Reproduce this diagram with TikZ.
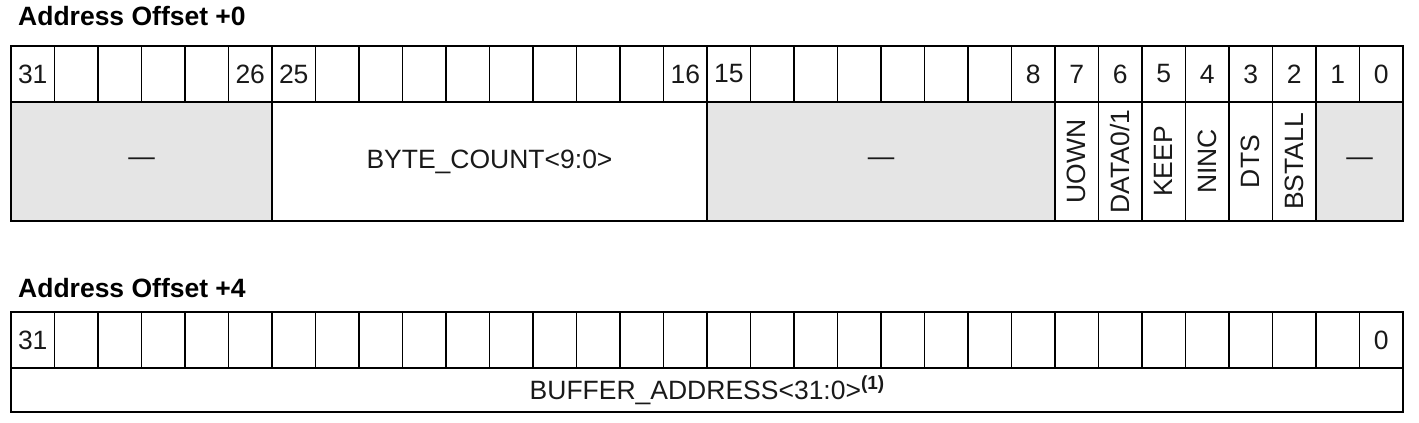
\documentclass[tikz,border=0pt]{standalone}
\usepackage{fontspec}
\setmainfont{Liberation Sans}
\begin{document}
\begin{tikzpicture}[x=1pt,y=-1pt,
  txt/.style={font=\fontsize{26.5}{30}\selectfont, text=black!90},
  hcell/.style={draw, line width=1.3pt, inner sep=0pt, outer sep=0pt, anchor=north west,
    minimum width=43.5pt, minimum height=56pt, txt},
  field/.style={draw, line width=1.3pt, inner sep=0pt, outer sep=0pt, anchor=north west, txt},
  rsv/.style={field, fill=black!10},
  title/.style={font=\fontsize{26.5}{30}\selectfont\bfseries, anchor=base west, inner sep=0pt}]
\useasboundingbox (0,0) rectangle (1419,423);
% titles
\node[title] (t0) at (18,25) {Address Offset +0};
\node[title] (t4) at (18,297) {Address Offset +4};
% top register header
\foreach \b/\l in {31/31,30/,29/,28/,27/,26/26,25/25,24/,23/,22/,21/,20/,19/,18/,17/,16/16,
                   15/15,14/,13/,12/,11/,10/,9/,8/8,7/7,6/6,5/5,4/4,3/3,2/2,1/1,0/0}
  \node[hcell] (a\b) at ({11+(31-\b)*43.5},46) {\l};
% top register fields
\node[rsv, minimum width=261pt, minimum height=119pt] (r3126) at (11,102) {---};
\node[field, minimum width=435pt, minimum height=119pt] (bc) at ({11+6*43.5},102) {BYTE\_COUNT<9:0>};
\node[rsv, minimum width=348pt, minimum height=119pt] (r158) at ({11+16*43.5},102) {---};
\foreach \b/\l in {7/UOWN,6/DATA0\slash 1,5/KEEP,4/NINC,3/DTS,2/BSTALL}
  \node[field, minimum width=43.5pt, minimum height=119pt] (f\b) at ({11+(31-\b)*43.5},102) {\rotatebox{90}{\l}};
\node[rsv, minimum width=87pt, minimum height=119pt] (r10) at ({11+30*43.5},102) {---};
% bottom register header
\foreach \b/\l in {31/31,30/,29/,28/,27/,26/,25/,24/,23/,22/,21/,20/,19/,18/,17/,16/,
                   15/,14/,13/,12/,11/,10/,9/,8/,7/,6/,5/,4/,3/,2/,1/,0/0}
  \node[hcell] (b\b) at ({11+(31-\b)*43.5},312) {\l};
\node[field, minimum width=1392pt, minimum height=44pt] (ba) at (11,368)
  {BUFFER\_ADDRESS<31:0>\raisebox{10pt}{\fontsize{19}{20}\selectfont\bfseries (1)}};
\end{tikzpicture}
\end{document}
